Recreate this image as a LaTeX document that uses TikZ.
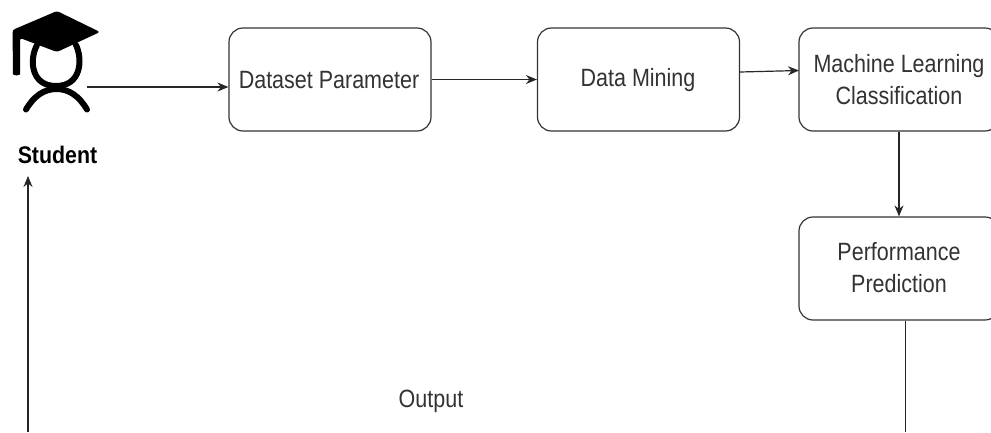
\documentclass[tikz,border=0pt]{standalone}
\usepackage{fontspec}
\setmainfont{Liberation Sans}
\usetikzlibrary{arrows.meta}
\tikzset{
  flowbox/.style={draw=black!80,line width=1.2pt,rounded corners=14pt,minimum height=103pt,inner sep=0pt,align=center},
  lbl/.style={text=black!80,align=center,inner sep=0pt,font=\fontsize{25}{32}\selectfont,xscale=.86},
  conn/.style={draw=black!85,line width=1.2pt,-{Stealth[length=11pt,width=9pt]}},
  plainconn/.style={draw=black!85,line width=1.2pt}
}
\begin{document}
\begin{tikzpicture}[x=1pt,y=-1pt]
\useasboundingbox (0,0) rectangle (991,432);
\clip (0,0) rectangle (991,432);
\fill[white] (0,0) rectangle (991,432);
% boxes
\node[flowbox,minimum width=202pt] (ds) at (330,79.5) {};
\node[flowbox,minimum width=202pt] (dm) at (638.5,79.5) {};
\node[flowbox,minimum width=200pt] (ml) at (899,79.5) {};
\node[flowbox,minimum width=200pt] (pp) at (899,268.5) {};
\node[lbl] at (329,80) {Dataset Parameter};
\node[lbl] at (638,80.5) {Data Mining};
\node[lbl] at (899,79.5) {Machine Learning\\Classification};
\node[lbl] at (899,267.5) {Performance\\Prediction};
\node[lbl] (out) at (431,401) {Output};
\node[text=black,inner sep=0pt,font=\fontsize{24}{26}\selectfont\bfseries,xscale=.89] (st) at (57.5,155) {Student};
% icon
\fill[black,rounded corners=2.5pt] (12.5,30) -- (57,11) -- (100,32) -- (57,52) -- (20,38) -- (20,72) arc[start angle=0,end angle=180,radius=3.5] -- cycle;
\draw[black,line width=6pt,line cap=round] (37,45) .. controls (29,60) and (31,86) .. (56,86) .. controls (81,86) and (83,60) .. (76,45);
\draw[black,line width=6pt,line cap=round] (26,109.5) .. controls (34,96) and (44,89) .. (56.5,89) .. controls (69,89) and (79,96) .. (87,109.5);
% connectors
\coordinate (ic) at (87,87);
\coordinate (up) at (28,432);
\coordinate (upend) at (28,176);
\coordinate (dn) at (905.5,432);
\coordinate (dmout) at (740,72);
\coordinate (mlin) at (799,70.5);
\draw[conn] (ic) -- (ds.west |- ic);
\draw[conn] (ds.east) -- (dm.west);
\draw[conn] (dmout) -- (mlin);
\draw[conn] (ml.south) -- (pp.north);
\draw[plainconn] (pp.south -| dn) -- (dn);
\draw[conn] (up) -- (upend);
\end{tikzpicture}
\end{document}
